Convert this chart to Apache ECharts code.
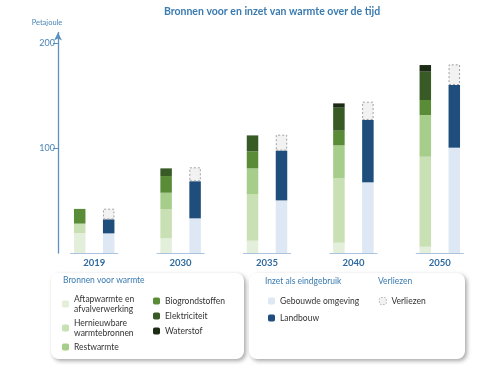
<!DOCTYPE html>
<html>
<head>
<meta charset="utf-8">
<script src="https://cdn.jsdelivr.net/npm/echarts@6/dist/echarts.min.js"></script>
<style>html,body{margin:0;padding:0;background:#fff}#c{width:500px;height:365px}</style>
</head>
<body>
<div id="c"></div>
<script>
var categories = ['2019', '2030', '2035', '2040', '2050'];
var aftapwarmte = [19, 14, 11.7, 9.8, 6];
var hernieuwbare = [9, 27.6, 44.5, 61.3, 85.7];
var restwarmte = [0, 15.8, 24.4, 31.4, 39.7];
var biogrondstoffen = [14, 15.9, 16.2, 14, 14.3];
var elektriciteit = [0, 7.3, 15.2, 21.9, 27];
var waterstof = [0, 0, 0, 4.1, 6.3];
var gebouwdeOmgeving = [18.7, 33, 50.1, 67.3, 100.3];
var landbouw = [13.3, 35.3, 47.4, 59.4, 59.7];
var verliezen = [10.2, 13.3, 15.2, 17.4, 19.7];
var yTicks = [100, 200];

var FONT = 'Lato';
var chart = echarts.init(document.getElementById('c'));
var names = {
  'Aftapwarmte en afvalverwerking': 'Aftapwarmte en\nafvalverwerking',
  'Hernieuwbare warmtebronnen': 'Hernieuwbare\nwarmtebronnen'
};
function bar(name, data, stack, color, extra) {
  return {
    name: name, type: 'bar', stack: stack, data: data,
    barWidth: 11.5, barGap: '152%',
    itemStyle: Object.assign({ color: color }, extra || {}),
    emphasis: { disabled: true }
  };
}
var legendText = { fontFamily: FONT, fontSize: 8.5, color: '#333', lineHeight: 10 };
var option = {
  animation: false,
  textStyle: { fontFamily: FONT },
  title: {
    text: 'Bronnen voor en inzet van warmte over de tijd',
    left: 267, top: 1, textAlign: 'center',
    textStyle: { fontFamily: FONT, fontSize: 10.5, fontWeight: 'bold', color: '#3a7bb0' }
  },
  grid: { left: 51, right: 17, top: 32.5, bottom: 112 },
  xAxis: {
    type: 'category', data: categories,
    axisLine: { show: false }, axisTick: { show: false },
    axisLabel: { margin: 5, fontFamily: FONT, fontSize: 9.5, fontWeight: 'bold', color: '#2f6a9e' }
  },
  yAxis: {
    type: 'value', min: 0, max: 210, interval: 100, offset: -7,
    name: 'Petajoule', nameLocation: 'end', nameGap: 6,
    nameTextStyle: { fontFamily: FONT, fontSize: 7.5, color: '#4a86b8', padding: [0, 22, 0, 0] },
    axisLine: { show: true, symbol: ['none', 'arrow'], symbolSize: [6, 8], lineStyle: { color: '#5b90c0', width: 1.3 } },
    axisTick: { show: true, length: 5, customValues: yTicks, lineStyle: { color: '#5b90c0' } },
    splitLine: { show: false },
    axisLabel: {
      fontFamily: FONT, fontSize: 9, color: '#4a86b8', margin: 3, customValues: yTicks
    }
  },
  legend: [
    { orient: 'vertical', left: 57, top: 289, itemWidth: 7, itemHeight: 7, itemGap: 4, z: 5,
      data: ['Aftapwarmte en afvalverwerking', 'Hernieuwbare warmtebronnen', 'Restwarmte'],
      formatter: function (n) { return names[n] || n; }, textStyle: legendText, selectedMode: false },
    { orient: 'vertical', left: 148, top: 291, itemWidth: 7, itemHeight: 7, itemGap: 5, z: 5,
      data: ['Biogrondstoffen', 'Elektriciteit', 'Waterstof'], textStyle: legendText, selectedMode: false },
    { orient: 'vertical', left: 263, top: 291, itemWidth: 7, itemHeight: 7, itemGap: 7, z: 5,
      data: ['Gebouwde omgeving', 'Landbouw'], textStyle: legendText, selectedMode: false },
    { orient: 'vertical', left: 374, top: 291, itemWidth: 7, itemHeight: 7, z: 5,
      data: [{ name: 'Verliezen', itemStyle: { color: '#f2f2f2', borderColor: '#a0a0a0', borderWidth: 0.8, borderType: [1.5, 1.5] } }],
      textStyle: legendText, selectedMode: false }
  ],
  graphic: [
    { type: 'rect', z: 1, shape: { x: 51, y: 273, width: 193, height: 86, r: 8 },
      style: { fill: '#fff', shadowColor: 'rgba(0,0,0,0.35)', shadowBlur: 4, shadowOffsetX: 2, shadowOffsetY: 2 } },
    { type: 'rect', z: 1, shape: { x: 249, y: 273, width: 216, height: 86, r: 8 },
      style: { fill: '#fff', shadowColor: 'rgba(0,0,0,0.35)', shadowBlur: 4, shadowOffsetX: 2, shadowOffsetY: 2 } },
    { type: 'text', z: 5, left: 63, top: 276, style: { text: 'Bronnen voor warmte', fontFamily: FONT, fontSize: 8.5, fill: '#3a7bb0' } },
    { type: 'text', z: 5, left: 265, top: 277, style: { text: 'Inzet als eindgebruik', fontFamily: FONT, fontSize: 8.5, fill: '#3a7bb0' } },
    { type: 'text', z: 5, left: 378, top: 277, style: { text: 'Verliezen', fontFamily: FONT, fontSize: 8.5, fill: '#3a7bb0' } }
  ],
  series: [
    bar('Aftapwarmte en afvalverwerking', aftapwarmte, 'bron', '#e3efda'),
    bar('Hernieuwbare warmtebronnen', hernieuwbare, 'bron', '#c8e0b4'),
    bar('Restwarmte', restwarmte, 'bron', '#a6cd8a'),
    bar('Biogrondstoffen', biogrondstoffen, 'bron', '#5a8c37'),
    bar('Elektriciteit', elektriciteit, 'bron', '#385a25'),
    bar('Waterstof', waterstof, 'bron', '#1c2b14'),
    bar('Gebouwde omgeving', gebouwdeOmgeving, 'inzet', '#dde8f4'),
    bar('Landbouw', landbouw, 'inzet', '#1f4e7d'),
    bar('Verliezen', verliezen, 'inzet', '#f2f2f2', { borderColor: '#a0a0a0', borderWidth: 1, borderType: [2, 2] }),
    {
      type: 'custom', name: 'baseline', silent: true, z: 3,
      data: categories.map(function (c, i) { return [i, 0]; }),
      renderItem: function (params, api) {
        var p = api.coord([api.value(0), 0]);
        return { type: 'line', shape: { x1: p[0] - 24, y1: p[1] + 0.5, x2: p[0] + 24, y2: p[1] + 0.5 },
          style: { stroke: '#a9c4dc', lineWidth: 1 } };
      }
    }
  ]
};
chart.setOption(option);
</script>
</body>
</html>
